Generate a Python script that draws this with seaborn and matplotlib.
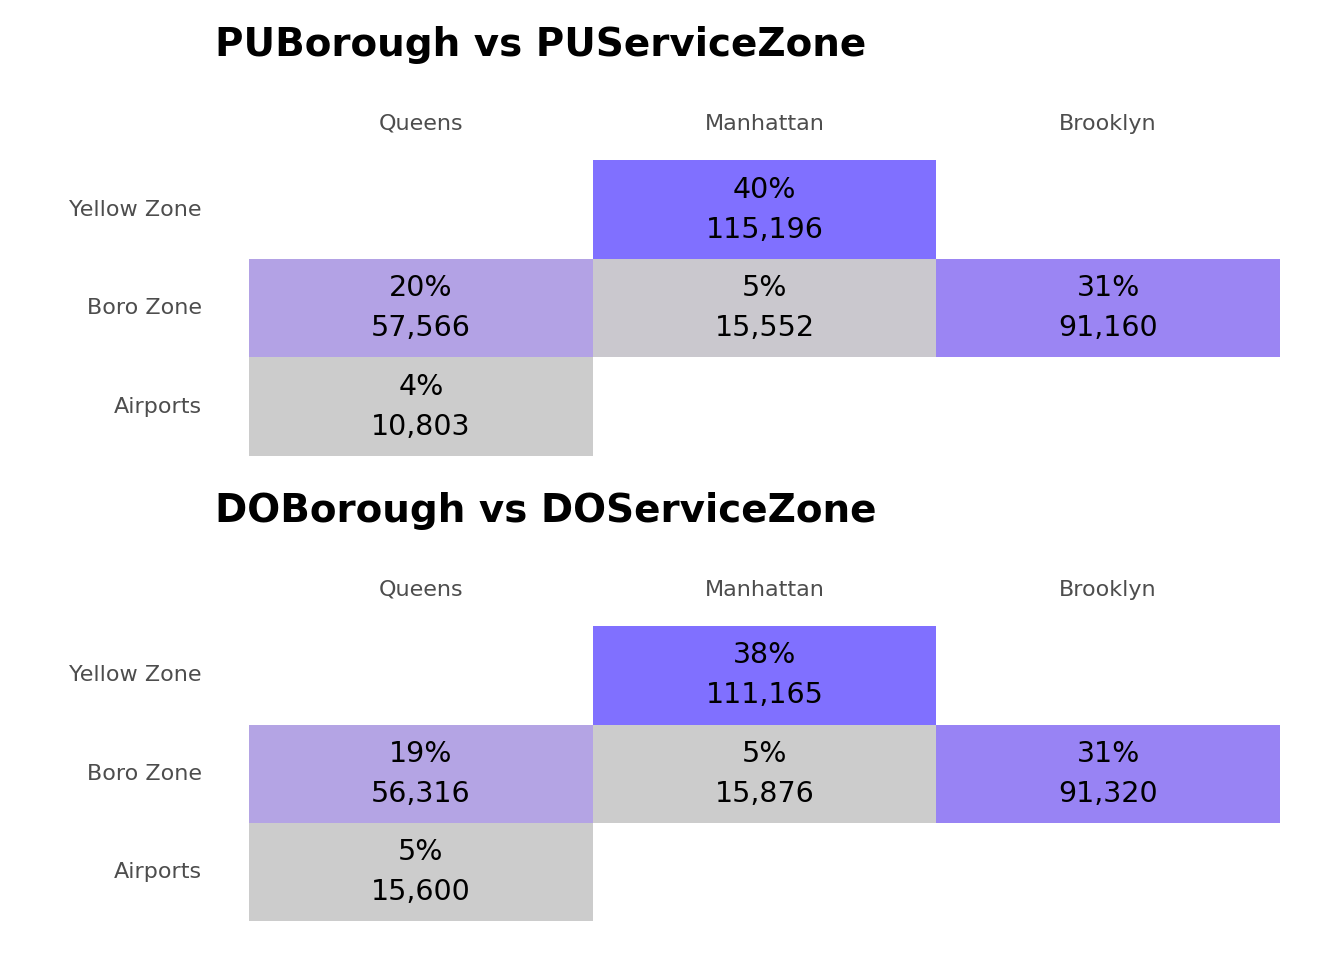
import numpy as np
import pandas as pd
import matplotlib
matplotlib.use("Agg")
import matplotlib.pyplot as plt
import seaborn as sns
from matplotlib.colors import LinearSegmentedColormap

plt.rcParams["font.family"] = ["DejaVu Sans"]

boroughs = ["Queens", "Manhattan", "Brooklyn"]
zones = ["Yellow Zone", "Boro Zone", "Airports"]

# counts per (zone, borough), nan = no trips
pu_counts = [[np.nan, 115196, np.nan],
             [57566, 15552, 91160],
             [10803, np.nan, np.nan]]
do_counts = [[np.nan, 111165, np.nan],
             [56316, 15876, 91320],
             [15600, np.nan, np.nan]]

titles = ["PUBorough vs PUServiceZone", "DOBorough vs DOServiceZone"]

cmap = LinearSegmentedColormap.from_list(
    "gp", [(0, "#cccccc"), (0.45, "#b3a2e5"), (0.77, "#9b85f3"), (1, "#8070ff")])

fig = plt.figure(figsize=(13.44, 9.6), dpi=100)
boxes = [[0.1853, 0.525, 0.767, 0.308], [0.1853, 0.0406, 0.767, 0.307]]
title_y = [0.953, 0.468]

for counts, title, box, ty in zip([pu_counts, do_counts], titles, boxes, title_y):
    df = pd.DataFrame(counts, index=zones, columns=boroughs)
    total = np.nansum(df.values)
    labels = df.map(lambda v: "" if np.isnan(v) else f"{v / total:.0%}\n{int(v):,}")
    ax = fig.add_axes(box)
    sns.heatmap(df, ax=ax, cmap=cmap, cbar=False, annot=labels, fmt="",
                annot_kws={"fontsize": 20.5, "color": "black", "linespacing": 1.55})
    ax.xaxis.tick_top()
    ax.tick_params(length=0, labelsize=16, labelcolor="#4d4d4d")
    ax.tick_params(axis="x", pad=19)
    ax.tick_params(axis="y", pad=34)
    ax.set_xlabel("")
    ax.set_ylabel("")
    plt.setp(ax.get_yticklabels(), rotation=0)
    fig.text(0.16, ty, title, fontsize=28, fontweight="bold", va="center")

fig.savefig("out.png", dpi=100)
